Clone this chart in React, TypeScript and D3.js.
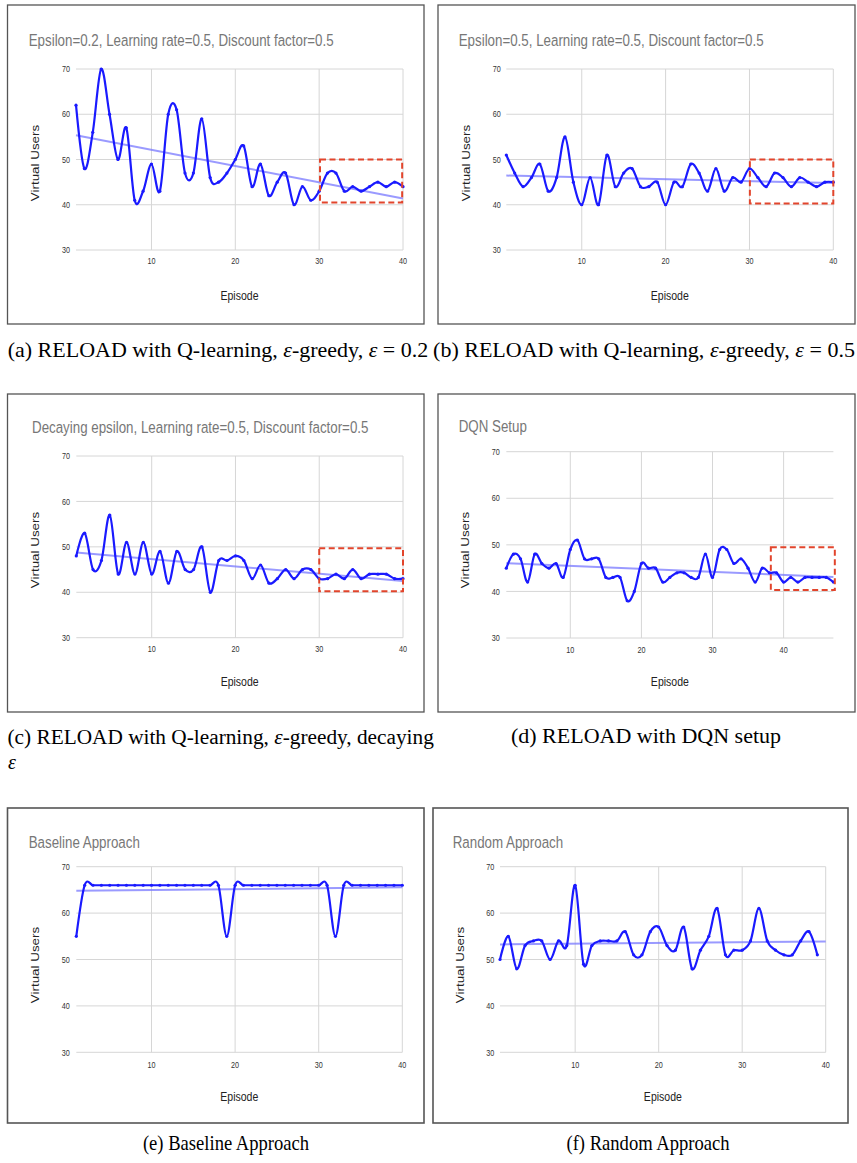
import React from "react";
import * as d3 from "d3";

// ---- data: virtual users per episode ----
const USERS_A = [62, 48, 56, 70, 60, 50, 57, 41, 43, 49, 43, 60, 61, 47, 47, 59, 46, 45, 47, 50,
  53, 44, 49, 42, 45, 47, 40, 44, 41, 43, 47, 47, 43, 44, 43, 44, 45, 44, 45, 44];
const USERS_B = [51, 47, 44, 46, 49, 43, 46, 55, 45, 40, 46, 40, 51, 44, 47, 48, 44, 44, 45, 40,
  45, 44, 49, 47, 43, 48, 43, 46, 45, 48, 46, 44, 47, 46, 44, 46, 45, 44, 45, 45];
const USERS_C = [48, 53, 45, 47, 57, 44, 51, 44, 51, 44, 49, 42, 49, 45, 45, 50, 40, 47, 47, 48,
  47, 43, 46, 42, 43, 45, 43, 45, 45, 43, 43, 44, 43, 45, 43, 44, 44, 44, 43, 43];
const USERS_D = [45, 48, 47, 42, 48, 46, 45, 46, 43, 49, 51, 47, 47, 47, 43, 43, 43, 38, 40, 46,
  45, 45, 42, 43, 44, 44, 43, 43, 48, 43, 49, 49, 46, 47, 45, 42, 45, 44, 44, 42,
  43, 42, 43, 43, 43, 43, 42];
const USERS_E = [55, 66, 66, 66, 66, 66, 66, 66, 66, 66, 66, 66, 66, 66, 66, 66, 66, 66, 55, 66,
  66, 66, 66, 66, 66, 66, 66, 66, 66, 66, 66, 55, 66, 66, 66, 66, 66, 66, 66, 66];
const USERS_F = [50, 55, 48, 53, 54, 54, 50, 54, 53, 66, 49, 53, 54, 54, 54, 56, 51, 51, 56, 57,
  53, 52, 57, 48, 52, 55, 61, 51, 52, 52, 54, 61, 54, 52, 51, 51, 54, 56, 51];

const Y_TICKS = [30, 40, 50, 60, 70];
const X_TICKS = [10, 20, 30, 40];

const TITLES = [
  "Epsilon=0.2, Learning rate=0.5, Discount factor=0.5",
  "Epsilon=0.5, Learning rate=0.5, Discount factor=0.5",
  "Decaying epsilon, Learning rate=0.5, Discount factor=0.5",
  "DQN Setup",
  "Baseline Approach",
  "Random Approach",
];

// dashed "converged" region, in data units
const ZONE_A = { x0: 30.1, x1: 39.9, y0: 40.5, y1: 50 };
const ZONE_B = { x0: 30.05, x1: 40, y0: 40.3, y1: 50 };
const ZONE_C = { x0: 30, x1: 40, y0: 40.2, y1: 49.7 };
const ZONE_D = { x0: 38.2, x1: 47.2, y0: 40.3, y1: 49.5 };

// ---- styling ----
const SX = 0.785; // horizontal squeeze of the chart lettering
const SANS = "'Liberation Sans', Arial, sans-serif";
const SERIF = "'Liberation Serif', 'Times New Roman', serif";
const LINE = "#1a1aff";
const GRID = "#d6d6d6";

type Zone = { x0: number; x1: number; y0: number; y1: number };
type Layout = {
  frame: { x: number; y: number; w: number; h: number };
  plot: { l: number; r: number; t: number; b: number };
  xMax: number;
  titleX: number;
  titleY: number;
  tickRight: number;
  xTickY: number;
  xTitleY: number;
  yTitleX: number;
  yTitleY: number;
  frameStroke?: number;
};

function linearFit(values: number[]) {
  const xs = values.map((_, i) => i + 1);
  const mx = d3.mean(xs) as number;
  const my = d3.mean(values) as number;
  const sxy = d3.sum(xs, (x, i) => (x - mx) * (values[i] - my));
  const sxx = d3.sum(xs, (x) => (x - mx) * (x - mx));
  const b = sxy / sxx;
  return (x: number) => my + b * (x - mx);
}

function SText(props: {
  x: number; y: number; size: number; fill: string; anchor?: string; rotate?: boolean; children: React.ReactNode;
}) {
  const { x, y, size, fill, anchor = "start", rotate = false, children } = props;
  const tr = `translate(${x},${y}) scale(${SX},1)${rotate ? " rotate(-90)" : ""}`;
  return (
    <text transform={tr} fontFamily={SANS} fontSize={size} fill={fill} textAnchor={anchor as any}>
      {children}
    </text>
  );
}

function Panel({ layout, title, values, zone }: { layout: Layout; title: string; values: number[]; zone?: Zone }) {
  const { frame, plot } = layout;
  const x = d3.scaleLinear().domain([1, layout.xMax]).range([plot.l, plot.r]);
  const y = d3.scaleLinear().domain([30, 70]).range([plot.b, plot.t]);
  const line = d3
    .line<number>()
    .x((_, i) => x(i + 1))
    .y((d) => y(d))
    .curve(d3.curveCardinal.tension(0));
  const trend = linearFit(values);
  const xTicks = X_TICKS.filter((t) => t <= layout.xMax);

  return (
    <g>
      <rect x={frame.x} y={frame.y} width={frame.w} height={frame.h} fill="#fff" stroke="#555"
        strokeWidth={layout.frameStroke ?? 1.3} />
      <SText x={layout.titleX} y={layout.titleY} size={17} fill="#777">{title}</SText>
      {Y_TICKS.map((t) => (
        <g key={"y" + t}>
          <line x1={plot.l} x2={plot.r} y1={y(t)} y2={y(t)} stroke={GRID} strokeWidth={1} />
          <SText x={layout.tickRight} y={y(t) + 3.2} size={9.2} fill="#333" anchor="end">{t}</SText>
        </g>
      ))}
      {xTicks.map((t) => (
        <g key={"x" + t}>
          <line x1={x(t)} x2={x(t)} y1={plot.t} y2={plot.b} stroke={GRID} strokeWidth={1} />
          <SText x={x(t)} y={layout.xTickY} size={9.2} fill="#333" anchor="middle">{t}</SText>
        </g>
      ))}
      <SText x={(plot.l + plot.r) / 2} y={layout.xTitleY} size={13.4} fill="#222" anchor="middle">Episode</SText>
      <SText x={layout.yTitleX + 4.5} y={layout.yTitleY} size={13.4} fill="#222" anchor="middle" rotate>
        Virtual Users
      </SText>
      <line x1={x(1)} x2={x(layout.xMax)} y1={y(trend(1))} y2={y(trend(layout.xMax))}
        stroke="#7878ff" strokeOpacity={0.75} strokeWidth={2} />
      <path d={line(values) ?? ""} fill="none" stroke={LINE} strokeWidth={2.2} />
      {values.map((v, i) => (
        <circle key={i} cx={x(i + 1)} cy={y(v)} r={1.6} fill={LINE} />
      ))}
      {zone && (
        <rect x={x(zone.x0)} y={y(zone.y1)} width={x(zone.x1) - x(zone.x0)} height={y(zone.y0) - y(zone.y1)}
          fill="none" stroke="#e2452c" strokeWidth={2} strokeDasharray="6,3.5" />
      )}
    </g>
  );
}

const LAYOUTS: Layout[] = [
  { frame: { x: 7.5, y: 5, w: 416.5, h: 319 }, plot: { l: 76, r: 403, t: 69, b: 250 }, xMax: 40,
    titleX: 28.7, titleY: 46, tickRight: 70, xTickY: 264, xTitleY: 299.5, yTitleX: 34.7, yTitleY: 163 },
  { frame: { x: 438, y: 5, w: 417, h: 319 }, plot: { l: 506.3, r: 833.3, t: 69, b: 250 }, xMax: 40,
    titleX: 458.7, titleY: 46, tickRight: 500.7, xTickY: 264, xTitleY: 299.5, yTitleX: 465.3, yTitleY: 163 },
  { frame: { x: 7.5, y: 394, w: 416.5, h: 318 }, plot: { l: 76.3, r: 403, t: 456, b: 637.7 }, xMax: 40,
    titleX: 32, titleY: 432.7, tickRight: 70, xTickY: 652, xTitleY: 686, yTitleX: 34.7, yTitleY: 550 },
  { frame: { x: 438, y: 394, w: 417, h: 318 }, plot: { l: 506.3, r: 833.4, t: 451.7, b: 638 }, xMax: 47,
    titleX: 458.7, titleY: 432.3, tickRight: 499.7, xTickY: 653, xTitleY: 686, yTitleX: 464.7, yTitleY: 550 },
  { frame: { x: 7.5, y: 808, w: 416.5, h: 315 }, plot: { l: 76.3, r: 402.3, t: 866.7, b: 1052.3 }, xMax: 40,
    titleX: 28.7, titleY: 847.7, tickRight: 69.7, xTickY: 1068, xTitleY: 1101, yTitleX: 34.7, yTitleY: 965,
    frameStroke: 1.6 },
  { frame: { x: 433, y: 808, w: 415, h: 315 }, plot: { l: 500, r: 825.7, t: 866.7, b: 1052.3 }, xMax: 40,
    titleX: 452.7, titleY: 847.7, tickRight: 494.3, xTickY: 1068, xTitleY: 1101, yTitleX: 459.3, yTitleY: 965,
    frameStroke: 1.6 },
];

const SERIES = [USERS_A, USERS_B, USERS_C, USERS_D, USERS_E, USERS_F];
const ZONES: (Zone | undefined)[] = [ZONE_A, ZONE_B, ZONE_C, ZONE_D, undefined, undefined];

function Eps() {
  return <tspan fontStyle="italic">ε</tspan>;
}

// sub-caption in the narrower serif used for the last row
function NarrowCaption({ x, y, children }: { x: number; y: number; children: React.ReactNode }) {
  return (
    <text transform={`translate(${x},${y}) scale(0.845,1)`} textAnchor="middle">
      {children}
    </text>
  );
}

export default function App() {
  return (
    <svg width={857} height={1163} viewBox="0 0 857 1163"
      style={{ position: "absolute", left: 0, top: 0, background: "#fff" }}>
      <rect x={0} y={0} width={857} height={1163} fill="#fff" />
      {LAYOUTS.map((l, i) => (
        <Panel key={i} layout={l} title={TITLES[i]} values={SERIES[i]} zone={ZONES[i]} />
      ))}
      <g fontFamily={SERIF} fontSize={22} fill="#000">
        <text x={218} y={357} textAnchor="middle">
          (a) RELOAD with Q-learning, <Eps />-greedy, <Eps /> = 0.2
        </text>
        <text x={644} y={357} textAnchor="middle">
          (b) RELOAD with Q-learning, <Eps />-greedy, <Eps /> = 0.5
        </text>
        <text x={7.5} y={744.3} textAnchor="start" fontSize={21.3}>
          (c) RELOAD with Q-learning, <Eps />-greedy, decaying
        </text>
        <text x={8} y={769} textAnchor="start" fontSize={20}>
          <Eps />
        </text>
        <text x={646} y={743.3} textAnchor="middle">(d) RELOAD with DQN setup</text>
        <NarrowCaption x={226} y={1150}>(e) Baseline Approach</NarrowCaption>
        <NarrowCaption x={648} y={1150}>(f) Random Approach</NarrowCaption>
      </g>
    </svg>
  );
}
